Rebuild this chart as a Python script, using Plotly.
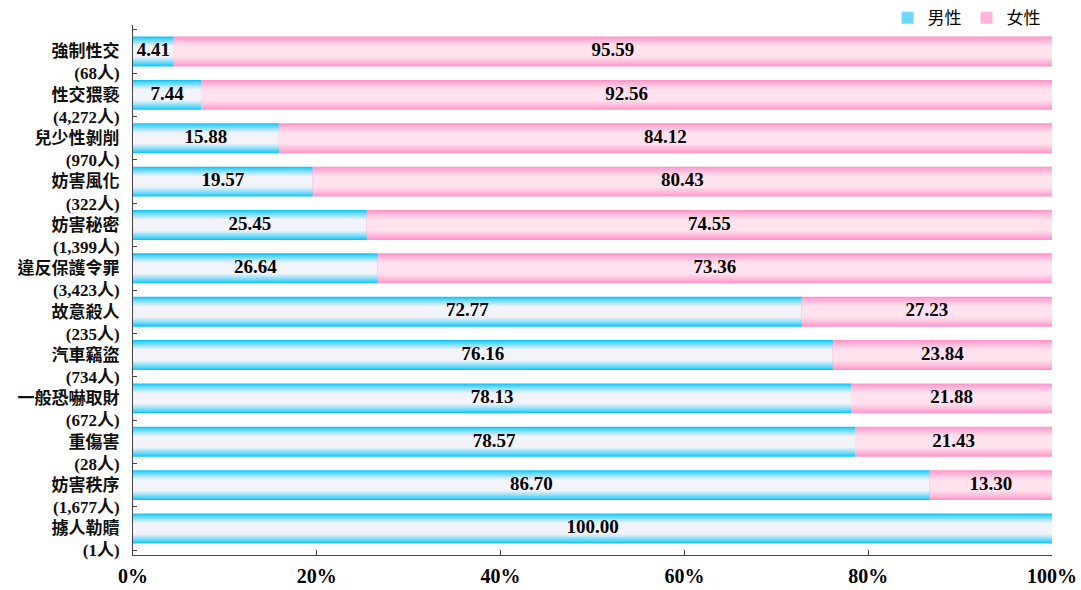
import plotly.graph_objects as go

categories = ["強制性交", "性交猥褻", "兒少性剝削", "妨害風化", "妨害秘密", "違反保護令罪",
              "故意殺人", "汽車竊盜", "一般恐嚇取財", "重傷害", "妨害秩序", "擄人勒贖"]
counts = ["68", "4,272", "970", "322", "1,399", "3,423", "235", "734", "672", "28", "1,677", "1"]
male = [4.41, 7.44, 15.88, 19.57, 25.45, 26.64, 72.77, 76.16, 78.13, 78.57, 86.70, 100.00]
female = [95.59, 92.56, 84.12, 80.43, 74.55, 73.36, 27.23, 23.84, 21.88, 21.43, 13.30, 0.00]
x_ticks = [0, 20, 40, 60, 80, 100]
x_ticklabels = ["0%", "20%", "40%", "60%", "80%", "100%"]

ticktext = [f"{c}<br>({n}人)" for c, n in zip(categories, counts)]

SERIF = "Liberation Serif, Times New Roman, Noto Sans CJK TC"


def lerp(c1, c2, t):
    a = [int(c1[i:i + 2], 16) for i in (1, 3, 5)]
    b = [int(c2[i:i + 2], 16) for i in (1, 3, 5)]
    return "#%02x%02x%02x" % tuple(round(a[i] + (b[i] - a[i]) * t) for i in range(3))


W = 0.69
N = 10
fig = go.Figure()

series = [
    ("男性", male, [0] * len(male), "#0cc6f7", "#f3f3fa"),
    ("女性", female, male, "#ff94c8", "#ffe2ee"),
]
for name, vals, base, edge, center in series:
    for k in range(N):
        t = k / (N - 1)
        w = W * (1 - 0.62 * t)
        col = lerp(edge, center, min(1.0, t ** 0.8))
        fig.add_trace(go.Bar(
            y=categories, x=vals, base=base, orientation="h", width=w,
            marker=dict(color=col, line=dict(width=0)),
            name=name, legendgroup=name, showlegend=(k == 3),
            hoverinfo="skip",
        ))

# value labels
fig.add_trace(go.Scatter(
    y=categories, x=[m / 2 for m in male], mode="text",
    text=[f"{m:.2f}" for m in male], textposition="middle center",
    textfont=dict(family=SERIF, size=19, color="black", weight="bold"),
    showlegend=False, hoverinfo="skip", cliponaxis=False,
))
fig.add_trace(go.Scatter(
    y=categories, x=[m + f / 2 for m, f in zip(male, female)], mode="text",
    text=[f"{f:.2f}" if f > 0 else "" for f in female], textposition="middle center",
    textfont=dict(family=SERIF, size=19, color="black", weight="bold"),
    showlegend=False, hoverinfo="skip", cliponaxis=False,
))

fig.update_layout(
    width=1081, height=590,
    barmode="overlay",
    plot_bgcolor="white", paper_bgcolor="white",
    margin=dict(l=133, r=29, t=25, b=35, autoexpand=False),
    legend=dict(orientation="h", x=0.993, xanchor="right", y=1.013, yanchor="middle",
                font=dict(family="Noto Sans CJK TC", size=17, color="black"),
                traceorder="normal", itemwidth=30, bgcolor="rgba(0,0,0,0)"),
    xaxis=dict(range=[0, 100], tickvals=x_ticks, ticktext=x_ticklabels,
               showgrid=False, zeroline=False, showline=True, linecolor="#444",
               linewidth=1, ticks="inside", ticklen=5, tickcolor="#444",
               tickfont=dict(family=SERIF, size=20, color="black", weight="bold"),
               ticklabelstandoff=3),
    yaxis=dict(autorange="reversed", tickvals=categories, ticktext=ticktext,
               tickson="boundaries", ticks="inside", ticklen=4, tickcolor="#444",
               showline=True, linecolor="#444", linewidth=1, showgrid=False,
               tickfont=dict(family=SERIF, size=17, color="#111", weight="bold"),
               ticklabelstandoff=9, ticklabelshift=-11),
)

fig.write_html("out.html", post_script="document.body.style.margin='0';",
               config={"displayModeBar": False})
